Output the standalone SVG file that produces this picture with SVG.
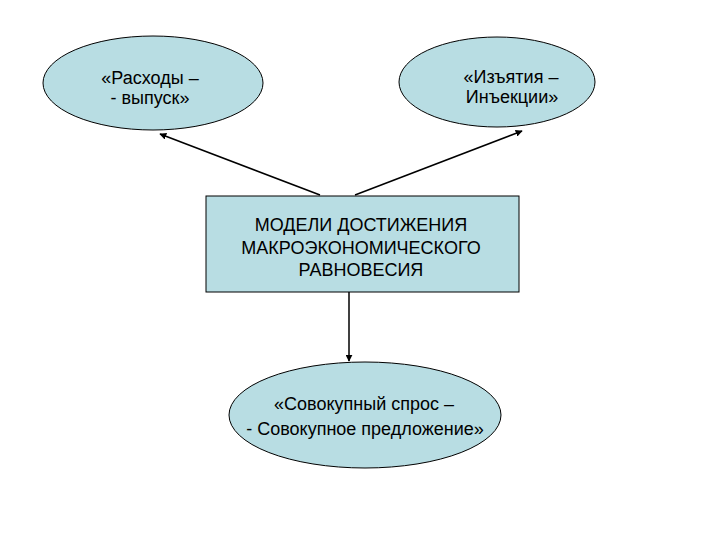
<svg xmlns="http://www.w3.org/2000/svg" width="720" height="540" viewBox="0 0 720 540">
<defs>
<style>
.n{fill:#b8dde3;stroke:#000;stroke-width:1}
.t{font-family:"Liberation Sans",Arial,sans-serif;font-size:18px;fill:#000;text-anchor:middle}
.c{stroke:#000;stroke-width:1.5;fill:none;marker-end:url(#ah)}
</style>
<marker id="ah" viewBox="0 0 10 10" refX="9" refY="5" markerWidth="7" markerHeight="7" orient="auto" markerUnits="userSpaceOnUse">
<path d="M0,0 L10,5 L0,10 z" fill="#000"/>
</marker>
</defs>
<rect width="720" height="540" fill="#fff"/>
<g id="connectors">
<line class="c" x1="320" y1="195" x2="160" y2="134"/>
<line class="c" x1="355" y1="195" x2="522" y2="131"/>
<line class="c" x1="349" y1="292" x2="349" y2="361"/>
</g>
<g id="n1">
<ellipse class="n" cx="153" cy="83" rx="110" ry="47"/>
<text class="t" x="150" y="84">«Расходы –</text>
<text class="t" x="150" y="104">- выпуск»</text>
</g>
<g id="n2">
<ellipse class="n" cx="497" cy="82" rx="98" ry="45"/>
<text class="t" x="511" y="83">«Изъятия –</text>
<text class="t" x="512" y="103">Инъекции»</text>
</g>
<g id="n3">
<rect class="n" x="206" y="196" width="313" height="96"/>
<text class="t" x="361" y="231">МОДЕЛИ ДОСТИЖЕНИЯ</text>
<text class="t" x="361" y="254">МАКРОЭКОНОМИЧЕСКОГО</text>
<text class="t" x="361" y="276">РАВНОВЕСИЯ</text>
</g>
<g id="n4">
<ellipse class="n" cx="365" cy="415" rx="136" ry="53"/>
<text class="t" x="364" y="410">«Совокупный спрос –</text>
<text class="t" x="365" y="435">- Совокупное предложение»</text>
</g>
</svg>
